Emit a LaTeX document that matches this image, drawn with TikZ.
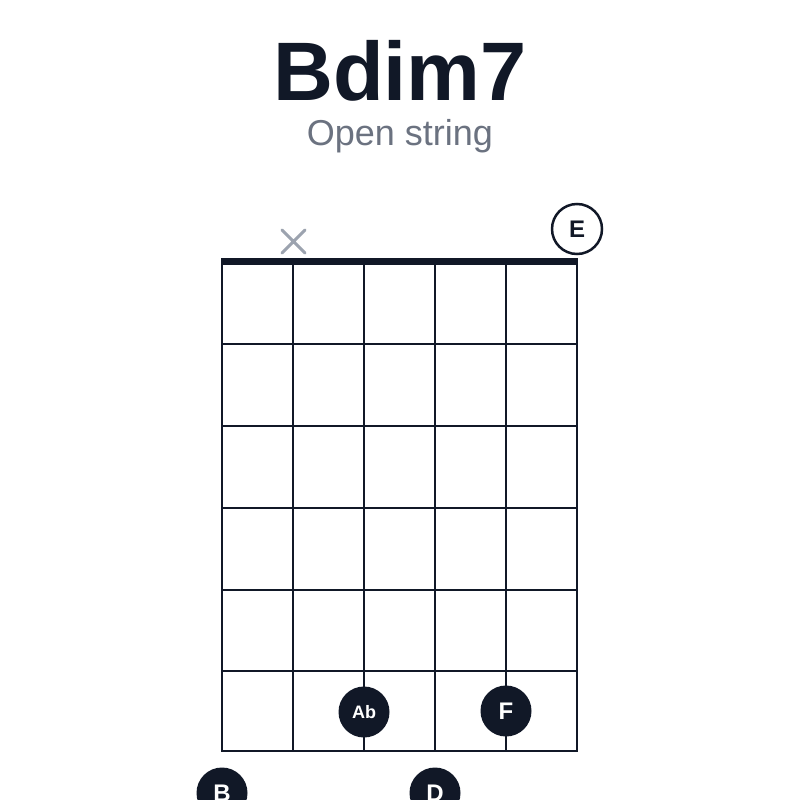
\documentclass[tikz,border=0pt]{standalone}
\usepackage{fontspec}
\setmainfont{Liberation Sans}
\definecolor{ink}{HTML}{111827}
\definecolor{sub}{HTML}{6B7280}
\definecolor{xgray}{HTML}{9CA3AF}
\begin{document}
\begin{tikzpicture}[x=1pt,y=-1pt,
  gridline/.style={draw=ink,line width=2pt},
  fingerdot/.style={circle,fill=ink,minimum size=51pt,inner sep=0pt,text=white,font=\fontsize{24}{24}\selectfont\bfseries},
  opendot/.style={circle,draw=ink,fill=white,line width=2.5pt,minimum size=50pt,inner sep=0pt,text=ink,font=\fontsize{24}{24}\selectfont\bfseries}]
\useasboundingbox[fill=white] (0,0) rectangle (800,800);
\clip (0,0) rectangle (800,800);
\node[font=\fontsize{83}{83}\selectfont\bfseries,text=ink,anchor=base] (title) at (400,100) {Bdim7};
\node[font=\fontsize{36}{36}\selectfont,text=sub,anchor=base] (subtitle) at (400,145) {Open string};
% strings
\foreach \i/\x in {1/222,2/293,3/364,4/435,5/506,6/577}
  \draw[gridline] (\x,261) -- (\x,752);
% frets
\foreach \y in {344,426,508,590,671,751}
  \draw[gridline] (222,\y) -- (577,\y);
\draw[ink,line width=7pt] (221,261) -- (578,261);
% muted
\draw[xgray,line width=3pt,line cap=round] (282,230) -- (305,253) (282,253) -- (305,230);
\node[opendot] (E) at (577,229) {E};
\node[fingerdot,font=\fontsize{18}{18}\selectfont\bfseries] (Ab) at (364,712) {Ab};
\node[fingerdot] (F) at (506,711) {F};
\node[fingerdot] (B) at (222,793) {B};
\node[fingerdot] (D) at (435,793) {D};
\end{tikzpicture}
\end{document}
